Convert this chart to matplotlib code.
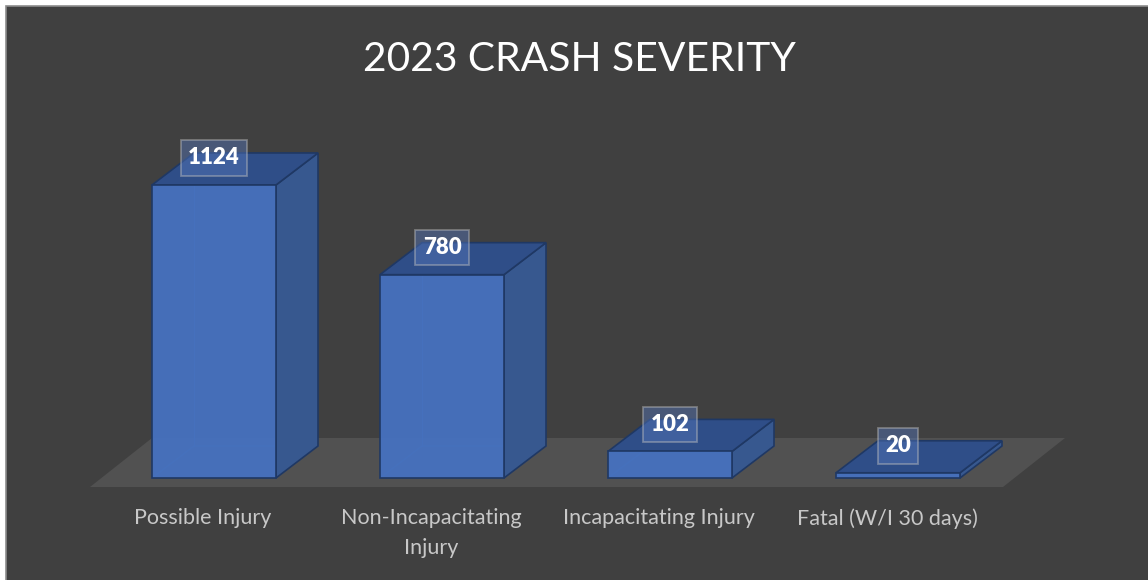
import matplotlib
matplotlib.use('Agg')
import matplotlib.pyplot as plt
from matplotlib.patches import Polygon, Rectangle

# ---- data ----
categories = ["Possible Injury", "Non-Incapacitating\nInjury", "Incapacitating Injury", "Fatal (W/I 30 days)"]
values = [1124, 780, 102, 20]
value_labels = ["1124", "780", "102", "20"]
title = "2023 CRASH SEVERITY"

# ---- layout (pixels) ----
W, H = 1148, 580
STEP = 228.0          # px per category
VS = 0.2607           # px per value unit
BASE_PX = 478.0       # y (from top) of value 0
X0_PX = 214.0         # x of first category centre

fig = plt.figure(figsize=(W / 100, H / 100), dpi=100)
fig.patch.set_facecolor('white')
fig.patches.append(Rectangle((6 / W, -0.02), 1.05, (H - 6) / H + 0.02,
                             transform=fig.transFigure, facecolor='#404040',
                             edgecolor='#8c8c8c', lw=1.2, zorder=-5))

ax = fig.add_axes([0, 0, 1, 1])
ax.set_zorder(2)
ax.patch.set_alpha(0)
ax.set_xlim(-X0_PX / STEP, (W - X0_PX) / STEP)
ax.set_ylim(-(H - BASE_PX) / VS, BASE_PX / VS)
ax.axis('off')

hw = 62 / STEP           # half bar width
ddx = 42 / STEP          # depth offset x
ddy = 32 / VS            # depth offset y

# floor
fy = -9 / VS
fl, fr = -124 / STEP, 789 / STEP
fdx, fdy = 62 / STEP, 49 / VS
ax.add_patch(Polygon([(fl, fy), (fr, fy), (fr + fdx, fy + fdy), (fl + fdx, fy + fdy)],
                     closed=True, facecolor='#515151', edgecolor='none', zorder=1))

front_c = '#4672c0'
side_c = '#37588f'
top_c = '#2f4e88'
edge_c = '#1f3864'

for i, v in enumerate(values):
    x0, x1 = i - hw, i + hw
    # hidden back edges
    ax.plot([x0, x0 + ddx, x1 + ddx], [0, ddy, ddy], color='#3a5a98', lw=0.8, zorder=2)
    ax.plot([x0 + ddx, x0 + ddx], [ddy, v + ddy], color='#3a5a98', lw=0.8, zorder=2)
    # side
    ax.add_patch(Polygon([(x1, 0), (x1 + ddx, ddy), (x1 + ddx, v + ddy), (x1, v)], closed=True,
                         facecolor=side_c, edgecolor=edge_c, lw=1.2, zorder=3))
    # top
    ax.add_patch(Polygon([(x0, v), (x1, v), (x1 + ddx, v + ddy), (x0 + ddx, v + ddy)], closed=True,
                         facecolor=top_c, edgecolor=edge_c, lw=1.2, zorder=3))
    # front
    ax.add_patch(Polygon([(x0, 0), (x1, 0), (x1, v), (x0, v)], closed=True,
                         facecolor=front_c, alpha=0.94, edgecolor='none', zorder=4))
    ax.add_patch(Polygon([(x0, 0), (x1, 0), (x1, v), (x0, v)], closed=True,
                         facecolor='none', edgecolor=edge_c, lw=1.2, zorder=5))
    # value label
    ax.text(i, v + ddy / 2 + 11 / VS, value_labels[i], ha='center', va='center',
            fontsize=16, fontweight='heavy', color='white', family='Lato', zorder=6,
            bbox=dict(boxstyle='square,pad=0.33', facecolor='#5577bb', alpha=0.45,
                      edgecolor='#c0c0c0', lw=1.3))
    # category label
    ax.text(i - 11 / STEP, -30 / VS, categories[i], ha='center', va='top',
            fontsize=15.5, color='#c8c8c8', family='Lato', linespacing=1.62, zorder=6)

fig.text(579 / W, 1 - 71 / H, title, ha='center', va='baseline', fontsize=29.3,
         color='white', family='Lato', zorder=3)

fig.savefig('out.png', dpi=100, facecolor=fig.get_facecolor())
